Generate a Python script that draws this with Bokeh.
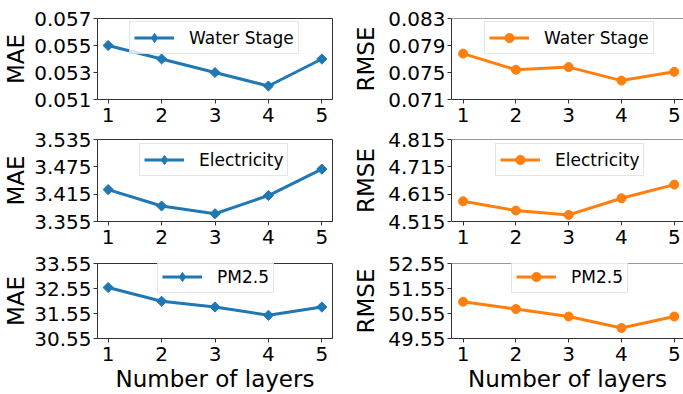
import math
from bokeh.plotting import figure
from bokeh.models import FixedTicker, PrintfTickFormatter, Range1d, Span, Legend, LegendItem
from bokeh.layouts import gridplot
from bokeh.embed import file_html
from bokeh.resources import INLINE

# ---- data ----
layers = [1, 2, 3, 4, 5]
x_tick_labels = ["1", "2", "3", "4", "5"]

mae_water = [0.055, 0.054, 0.053, 0.052, 0.054]
rmse_water = [0.0778, 0.0754, 0.0758, 0.0738, 0.0751]
mae_elec = [3.425, 3.389, 3.372, 3.412, 3.470]
rmse_elec = [4.589, 4.555, 4.539, 4.600, 4.650]
mae_pm = [32.59, 32.04, 31.81, 31.48, 31.81]
rmse_pm = [51.02, 50.73, 50.43, 49.97, 50.43]

mae_water_ticks = [0.051, 0.053, 0.055, 0.057]
rmse_water_ticks = [0.071, 0.075, 0.079, 0.083]
mae_elec_ticks = [3.355, 3.415, 3.475, 3.535]
rmse_elec_ticks = [4.515, 4.615, 4.715, 4.815]
mae_pm_ticks = [30.55, 31.55, 32.55, 33.55]
rmse_pm_ticks = [49.55, 50.55, 51.55, 52.55]

datasets = ["Water Stage", "Electricity", "PM2.5"]
x_label = "Number of layers"

# ---- style / layout ----
FONT = "DejaVu Sans"
BLUE = "#1f77b4"
ORANGE = "#ff7f0e"
SPINE = "#333333"

row_heights = [128, 123, 143]
row_top = [18, 11, 12]
frame_h = [81, 82, 79]
legend_top_margin = [5, 6, 3]
LEG_H = 31
# legend left offset from frame left, per (row, col)
legend_dx = [[32, 33], [42, 44], [60, 60]]


def make_panel(values, ticks, fmt, ylabel, name, color, marker, right, r):
    if right:
        w, bl, br = 333, 99, 0
        xr = Range1d(0.78, 5.175)
    else:
        w, bl, br = 350, 97, 18
        xr = Range1d(0.8, 5.2)
    bottom = row_heights[r] - row_top[r] - frame_h[r]
    p = figure(width=w, height=row_heights[r], output_backend="svg",
               toolbar_location=None, x_range=xr,
               y_range=Range1d(ticks[0], ticks[-1]),
               min_border_left=bl, min_border_right=br,
               min_border_top=row_top[r], min_border_bottom=bottom)
    p.grid.grid_line_color = None
    p.background_fill_color = "white"
    p.border_fill_color = "white"
    if right:
        p.outline_line_color = None
        p.add_layout(Span(location=ticks[-1], dimension="width",
                          line_color=SPINE, line_width=1))
    else:
        p.outline_line_color = SPINE
        p.outline_line_width = 1

    line_r = p.line(layers, values, line_width=3, color=color)
    if marker == "diamond":
        p.scatter(layers, values, marker="square", size=7.2, angle=math.pi / 4,
                  color=color)
        # legend-only glyph (placed outside the visible range)
        leg_mark = p.scatter([-100], [ticks[0]], marker="diamond", size=10, color=color)
    else:
        leg_mark = p.scatter(layers, values, marker="circle", size=9, color=color)

    p.xaxis.ticker = FixedTicker(ticks=layers)
    p.xaxis.major_label_overrides = {v: s for v, s in zip(layers, x_tick_labels)}
    p.yaxis.ticker = FixedTicker(ticks=ticks)
    p.yaxis.formatter = PrintfTickFormatter(format=fmt)
    for ax in (p.xaxis[0], p.yaxis[0]):
        ax.minor_tick_line_color = None
        ax.major_tick_out = 4
        ax.major_tick_in = 0
        ax.major_tick_line_color = SPINE
        ax.axis_line_color = SPINE
        ax.major_label_text_font = FONT
        ax.major_label_text_font_size = "20px"
        ax.major_label_text_color = "black"
        ax.axis_label_text_font = FONT
        ax.axis_label_text_font_size = "23px"
        ax.axis_label_text_font_style = "normal"
        ax.axis_label_text_color = "black"
    p.yaxis.axis_label = ylabel
    p.yaxis.major_label_standoff = 2
    p.yaxis.axis_label_standoff = 2 if not right else 6
    p.xaxis.major_label_standoff = 4
    if r == 2:
        p.xaxis.axis_label = x_label
        p.xaxis.axis_label_standoff = 2

    vy = frame_h[r] - legend_top_margin[r] - LEG_H
    vx = legend_dx[r][1 if right else 0]
    lg = Legend(items=[LegendItem(label=name, renderers=[line_r, leg_mark])],
                location=(vx, vy))
    lg.margin = 0
    lg.padding = 4
    lg.spacing = 0
    lg.glyph_width = 40
    lg.glyph_height = 23
    lg.label_height = 23
    lg.label_standoff = 15
    lg.label_text_font = FONT
    lg.label_text_font_size = "17px"
    lg.label_text_color = "black"
    lg.border_line_color = "#cccccc"
    lg.border_line_width = 1
    lg.background_fill_alpha = 0.8
    p.add_layout(lg)
    return p


p1 = make_panel(mae_water, mae_water_ticks, "%.3f", "MAE", datasets[0], BLUE, "diamond", False, 0)
p2 = make_panel(rmse_water, rmse_water_ticks, "%.3f", "RMSE", datasets[0], ORANGE, "circle", True, 0)
p3 = make_panel(mae_elec, mae_elec_ticks, "%.3f", "MAE", datasets[1], BLUE, "diamond", False, 1)
p4 = make_panel(rmse_elec, rmse_elec_ticks, "%.3f", "RMSE", datasets[1], ORANGE, "circle", True, 1)
p5 = make_panel(mae_pm, mae_pm_ticks, "%.2f", "MAE", datasets[2], BLUE, "diamond", False, 2)
p6 = make_panel(rmse_pm, rmse_pm_ticks, "%.2f", "RMSE", datasets[2], ORANGE, "circle", True, 2)

grid = gridplot([[p1, p2], [p3, p4], [p5, p6]], toolbar_location=None)

open("out.html", "w").write(file_html(grid, INLINE))
